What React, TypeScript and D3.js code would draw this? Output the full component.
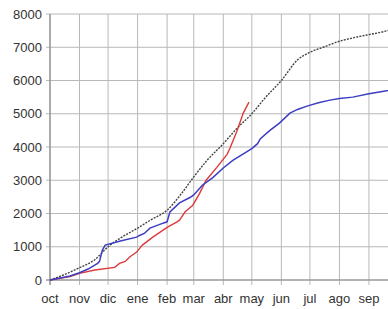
import React from "react";
import * as d3 from "d3";

const monthLabels = ["oct", "nov", "dic", "ene", "feb", "mar", "abr", "may", "jun", "jul", "ago", "sep"];
const yTicks = [0, 1000, 2000, 3000, 4000, 5000, 6000, 7000, 8000];

const avgDates = ["2009-10-01","2009-10-15","2009-11-01","2009-11-17","2009-12-01","2009-12-15","2010-01-01","2010-01-15","2010-02-01","2010-02-15","2010-03-01","2010-03-15","2010-04-01","2010-04-15","2010-05-01","2010-05-15","2010-06-01","2010-06-18","2010-07-01","2010-07-15","2010-08-01","2010-08-15","2010-09-01","2010-09-15","2010-09-30"];
const avgValues = [0,150,370,610,1000,1280,1560,1810,2100,2560,3100,3600,4100,4550,5000,5480,6000,6620,6850,7000,7180,7280,7380,7460,7580];

const blueDates = ["2009-10-01","2009-10-22","2009-11-01","2009-11-10","2009-11-20","2009-11-22","2009-11-25","2009-11-28","2009-12-15","2009-12-31","2010-01-03","2010-01-08","2010-01-14","2010-01-25","2010-02-01","2010-02-04","2010-02-14","2010-02-25","2010-03-01","2010-03-10","2010-03-21","2010-04-01","2010-04-11","2010-05-01","2010-05-07","2010-05-10","2010-05-20","2010-05-30","2010-06-10","2010-06-18","2010-06-28","2010-07-10","2010-07-22","2010-08-01","2010-08-15","2010-09-01","2010-09-15","2010-09-30"];
const blueValues = [0,120,220,330,500,560,900,1050,1180,1290,1340,1400,1560,1680,1750,2050,2320,2480,2560,2850,3080,3370,3600,3950,4100,4250,4500,4720,5020,5130,5230,5330,5410,5460,5500,5600,5670,5750];

const redDates = ["2009-10-01","2009-10-22","2009-11-01","2009-11-17","2009-12-08","2009-12-13","2009-12-19","2009-12-24","2009-12-31","2010-01-06","2010-01-17","2010-02-01","2010-02-11","2010-02-14","2010-02-20","2010-02-28","2010-03-07","2010-03-14","2010-03-25","2010-04-05","2010-04-08","2010-04-15","2010-04-22","2010-04-28"];
const redValues = [0,100,200,300,380,500,560,700,840,1050,1290,1580,1740,1800,2050,2250,2600,3000,3380,3780,3960,4450,5020,5350];

const W = 388;
const H = 309;

export default function App() {
  const parse = d3.timeParse("%Y-%m-%d");
  const x = d3.scaleTime().domain([new Date(2009, 9, 1), new Date(2010, 9, 1)]).range([50, 397.5]);
  const y = d3.scaleLinear().domain([0, 8000]).range([280, 14]);
  const line = d3.line<[Date, number]>().x((d) => x(d[0])).y((d) => y(d[1]));
  const smooth = d3.line<[Date, number]>().x((d) => x(d[0])).y((d) => y(d[1])).curve(d3.curveMonotoneX);
  const mk = (ds: string[], vs: number[]) => ds.map((s, i) => [parse(s) as Date, vs[i]] as [Date, number]);
  const months = monthLabels.map((_, i) => new Date(2009, 9 + i, 1));
  const font = "'Liberation Sans', Arial, Helvetica, sans-serif";
  return (
    <svg width={W} height={H} style={{ position: "absolute", left: 0, top: 0, background: "#fff" }}>
      {yTicks.map((t) => (
        <line key={"h" + t} x1={46} x2={W} y1={y(t)} y2={y(t)} stroke="#b8b8b8" strokeWidth={1} />
      ))}
      {months.map((m, i) => (
        <line key={"v" + i} x1={x(m)} x2={x(m)} y1={y(8000)} y2={285} stroke="#b8b8b8" strokeWidth={1} />
      ))}
      <line x1={50} x2={50} y1={y(8000)} y2={285} stroke="#8a8a8a" strokeWidth={1.2} />
      <line x1={46} x2={W} y1={y(0)} y2={y(0)} stroke="#8a8a8a" strokeWidth={1.2} />
      {yTicks.map((t) => (
        <text key={"yl" + t} x={42} y={y(t) + 4.5} textAnchor="end" fontFamily={font} fontSize={13} fill="#333">
          {t}
        </text>
      ))}
      {months.map((m, i) => (
        <text key={"xl" + i} x={x(m)} y={303} textAnchor="middle" fontFamily={font} fontSize={13} fill="#333">
          {monthLabels[i]}
        </text>
      ))}
      <path d={smooth(mk(avgDates, avgValues)) || ""} fill="none" stroke="#444" strokeWidth={1.4} strokeDasharray="2,1.2" />
      <path d={line(mk(redDates, redValues)) || ""} fill="none" stroke="#dd3b3b" strokeWidth={1.4} />
      <path d={line(mk(blueDates, blueValues)) || ""} fill="none" stroke="#3d3dc4" strokeWidth={1.5} />
    </svg>
  );
}
